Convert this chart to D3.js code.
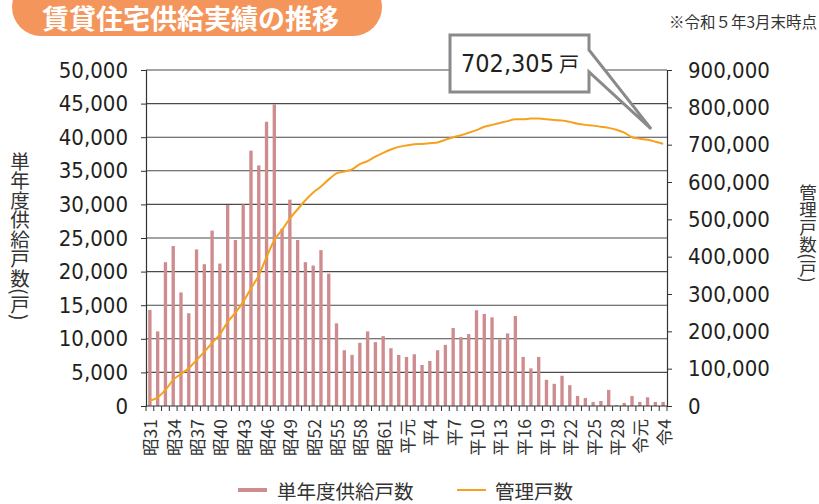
<!DOCTYPE html>
<html>
<head>
<meta charset="utf-8">
<script src="https://cdn.jsdelivr.net/npm/d3@7"></script>
<style>
  body { margin: 0; background: #fff; }
  svg { display: block; }
  .num { font-family: "DejaVu Sans Condensed", "DejaVu Sans", sans-serif; font-stretch: condensed; fill: #231f20; }
  .jp { font-family: "Noto Sans CJK JP", sans-serif; fill: #333; }
</style>
</head>
<body>
<div id="chart"></div>
<script>

// Fiscal years (Showa 31 .. Reiwa 4).
const years = [
	"昭31","昭32","昭33","昭34","昭35","昭36","昭37","昭38","昭39","昭40","昭41",
	"昭42","昭43","昭44","昭45","昭46","昭47","昭48","昭49","昭50","昭51","昭52",
	"昭53","昭54","昭55","昭56","昭57","昭58","昭59","昭60","昭61","昭62","昭63",
	"平元","平2","平3","平4","平5","平6","平7","平8","平9","平10","平11","平12",
	"平13","平14","平15","平16","平17","平18","平19","平20","平21","平22","平23",
	"平24","平25","平26","平27","平28","平29","平30","令元","令2","令3","令4"];

// Labels shown on the x axis (every third year).
const yearTicks = ["昭31","昭34","昭37","昭40","昭43","昭46","昭49","昭52","昭55","昭58","昭61",
	"平元","平4","平7","平10","平13","平16","平19","平22","平25","平28","令元","令4"];

// Units supplied per year (left axis).
const supply = [
	14300, 11100, 21400, 23800, 16900, 13800, 23300, 21100, 26100, 21200, 29900,
	24700, 30000, 38000, 35800, 42300, 44900, 26400, 30700, 24700, 21400, 20900,
	23200, 19700, 12300, 8300, 7600, 9400, 11100, 9500, 10400, 8600, 7600,
	7300, 7700, 6100, 6700, 8300, 9100, 11600, 10250, 10700, 14250, 13700, 13200,
	9900, 10800, 13400, 7300, 5600, 7300, 3900, 3300, 4500, 3100, 1500,
	1200, 600, 750, 2400, 150, 450, 1500, 600, 1300, 600, 600];

// Units under management (right axis).
const managed = [
	14000, 23000, 43000, 70000, 86000, 101000, 123000, 145000, 169000, 192000, 225000,
	250000, 279000, 315000, 350000, 399000, 444000, 472000, 502000, 527000, 551000, 572000,
	588000, 607000, 623000, 628000, 634000, 648000, 656000, 668000, 678000, 687000, 694000,
	698000, 701000, 702000, 704000, 706000, 713000, 720000, 725000, 732000, 739000, 748000, 753000,
	758000, 763000, 768000, 768000, 770000, 770000, 768000, 766000, 765000, 761000, 756000,
	753000, 751000, 748000, 745000, 740000, 732000, 720000, 716000, 713000, 708000, 702305];

const leftTicks = d3.range(0, 50001, 5000),
	rightTicks = d3.range(0, 900001, 100000);

const title = "賃貸住宅供給実績の推移",
	note = "※令和５年3月末時点",
	leftTitle = "単年度供給戸数(戸)",
	rightTitle = "管理戸数(戸)",
	legendLabels = ["単年度供給戸数", "管理戸数"];

const barColor = "#cf8c8f",
	lineColor = "#f5a11c",
	gridColor = "#4a4a4a";

// Dimensions of chart.
const W = 819, H = 504;
let margin = { top: 70, right: 152, bottom: 98, left: 146 },
	width = W - margin.left - margin.right,
	height = H - margin.top - margin.bottom;

let svg = d3.select("#chart").append("svg")
	.attr("width", W)
	.attr("height", H);

let g = svg.append("g")
	.attr("transform", "translate(" + margin.left + "," + margin.top + ")");

// Scales
let x = d3.scaleBand()
	.domain(years)
	.range([0, width])
	.paddingInner(0.57)
	.paddingOuter(0.285);

let step = x.step();

let yL = d3.scaleLinear().domain([0, 50000]).range([height, 0]);
let yR = d3.scaleLinear().domain([0, 900000]).range([height, 0]);

// Gridlines
g.append("g")
	.selectAll("line")
	.data(leftTicks.slice(1))
	.join("line")
	.attr("x1", 0).attr("x2", width)
	.attr("y1", d => yL(d)).attr("y2", d => yL(d))
	.attr("stroke", gridColor)
	.attr("stroke-width", 1.1);

// Bars
g.append("g")
	.selectAll("rect")
	.data(supply)
	.join("rect")
	.attr("x", (d, i) => x(years[i]))
	.attr("y", d => yL(d))
	.attr("width", x.bandwidth())
	.attr("height", d => height - yL(d))
	.attr("fill", barColor);

// Management line
let line = d3.line()
	.x((d, i) => x(years[i]) + x.bandwidth() / 2)
	.y(d => yR(d))
	.curve(d3.curveMonotoneX);

g.append("path")
	.datum(managed)
	.attr("d", line)
	.attr("fill", "none")
	.attr("stroke", lineColor)
	.attr("stroke-width", 2);

// Left axis
let axL = g.append("g")
	.call(d3.axisLeft(yL).tickValues(leftTicks).tickFormat(d3.format(",")).tickSize(5).tickPadding(13));
axL.selectAll("text").attr("class", "num").style("font-size", "22px");

// Right axis
let axR = g.append("g")
	.attr("transform", "translate(" + width + ",0)")
	.call(d3.axisRight(yR).tickValues(rightTicks).tickFormat(d3.format(",")).tickSize(5).tickPadding(16));
axR.selectAll("text").attr("class", "num").style("font-size", "22px");

[axL, axR].forEach(a => {
	a.select(".domain").attr("stroke", "#333").attr("stroke-width", 1.2);
	a.selectAll(".tick line").attr("stroke", "#333");
	a.selectAll("text").attr("fill", "#231f20");
});

// Bottom axis: tick at every band boundary
let xb = g.append("g").attr("transform", "translate(0," + height + ")");
xb.append("line")
	.attr("x1", 0).attr("x2", width)
	.attr("stroke", "#333").attr("stroke-width", 1.2);
xb.selectAll("line.tk")
	.data(d3.range(years.length + 1))
	.join("line")
	.attr("class", "tk")
	.attr("x1", i => i * step).attr("x2", i => i * step)
	.attr("y1", 0).attr("y2", 5)
	.attr("stroke", "#333");
xb.selectAll("text")
	.data(yearTicks)
	.join("text")
	.attr("class", "jp")
	.attr("transform", d => "translate(" + (x(d) + x.bandwidth() / 2) + ",13) rotate(-90)")
	.attr("text-anchor", "end")
	.attr("dominant-baseline", "central")
	.style("font-size", "17.5px")
	.text(d => d);

// Axis titles
svg.append("text")
	.attr("class", "jp")
	.attr("x", 20).attr("y", 236)
	.attr("text-anchor", "middle")
	.style("writing-mode", "vertical-rl")
	.style("font-size", "19.5px")
	.text(leftTitle);

svg.append("text")
	.attr("class", "jp")
	.attr("x", 808).attr("y", 233)
	.attr("text-anchor", "middle")
	.style("writing-mode", "vertical-rl")
	.style("font-size", "17.5px")
	.text(rightTitle);

// Title pill
svg.append("rect")
	.attr("x", 12).attr("y", -22)
	.attr("width", 370).attr("height", 58)
	.attr("rx", 29)
	.attr("fill", "#f4955b");
svg.append("text")
	.attr("x", 42).attr("y", 17)
	.attr("dominant-baseline", "central")
	.style("font-family", "'Noto Sans CJK JP', sans-serif")
	.style("font-weight", "bold")
	.style("font-size", "27px")
	.attr("fill", "#fff")
	.text(title);

svg.append("text")
	.attr("class", "jp")
	.attr("x", 669).attr("y", 28)
	.style("font-size", "15.5px")
	.text(note);

// Callout pointing to last value
let last = managed.length - 1,
	tipX = margin.left + x(years[last]) + x.bandwidth() / 2 - 12,
	tipY = margin.top + yR(managed[last]) - 15;
svg.append("path")
	.attr("d", "M450,35 H589 V50 L" + tipX + "," + tipY + " L589,72 V92 H450 Z")
	.attr("fill", "#fff")
	.attr("stroke", "#8a8a8a")
	.attr("stroke-width", 3)
	.attr("stroke-linejoin", "miter");
let callout = svg.append("text")
	.attr("x", 461).attr("y", 72)
	.attr("fill", "#231f20");
callout.append("tspan")
	.attr("class", "num")
	.style("font-size", "25px")
	.text(d3.format(",")(managed[last]));
callout.append("tspan")
	.attr("dx", 5)
	.style("font-family", "'Noto Sans CJK JP', sans-serif")
	.style("font-size", "20px")
	.text("戸");

// Legend
let legend = svg.append("g").attr("transform", "translate(0,490)");
legend.append("line")
	.attr("x1", 238).attr("x2", 267)
	.attr("stroke", barColor).attr("stroke-width", 4);
legend.append("text")
	.attr("class", "jp")
	.attr("x", 277).attr("dominant-baseline", "central")
	.style("font-size", "19.5px")
	.text(legendLabels[0]);
legend.append("line")
	.attr("x1", 457).attr("x2", 486)
	.attr("stroke", lineColor).attr("stroke-width", 2);
legend.append("text")
	.attr("class", "jp")
	.attr("x", 495).attr("dominant-baseline", "central")
	.style("font-size", "19.5px")
	.text(legendLabels[1]);

</script>
</body>
</html>
